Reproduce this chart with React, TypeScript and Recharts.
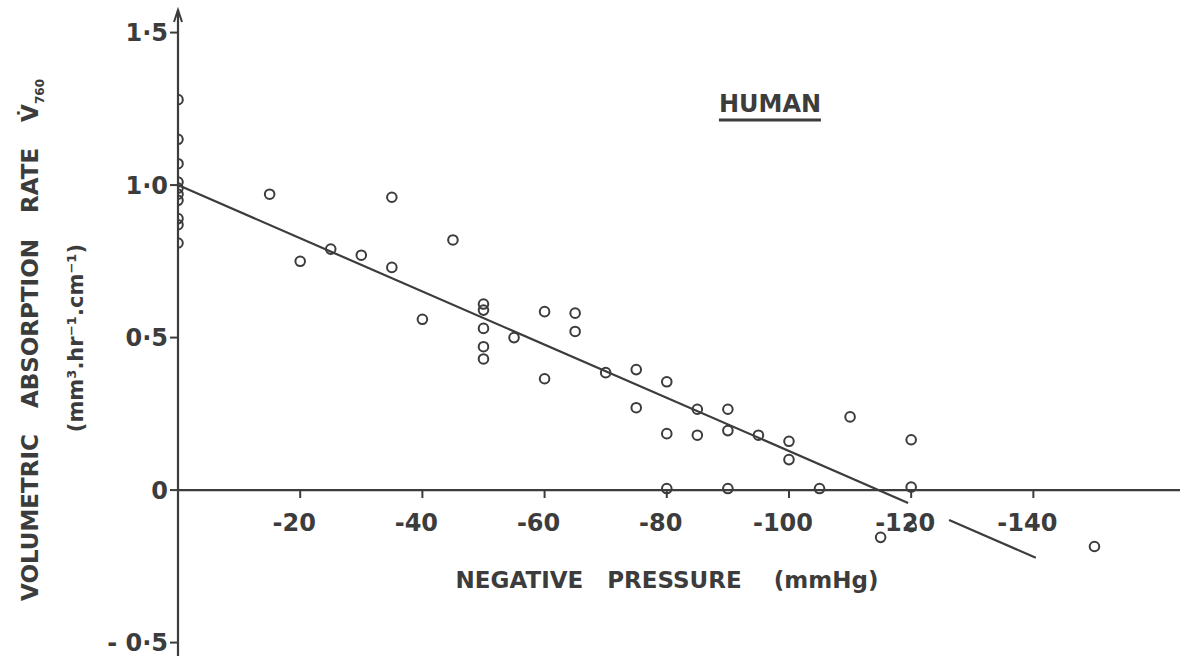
import { ReferenceDot, ReferenceLine, Scatter, ScatterChart, XAxis, YAxis } from "recharts";

// negative pressure (mmHg) and volumetric absorption rate for each observation
const pressures = [
  0, 0, 0, 0, 0, 0, 0, 0, 0, 0,
  -15, -20, -25, -30, -35, -35, -40, -45,
  -50, -50, -50, -50, -50, -55, -60, -60, -65, -65,
  -70, -75, -75, -80, -80, -80, -85, -85, -90, -90, -90,
  -95, -100, -100, -105, -110, -115, -120, -120, -120, -150,
];
const rates = [
  1.28, 1.15, 1.07, 1.01, 0.99, 0.97, 0.95, 0.89, 0.87, 0.81,
  0.97, 0.75, 0.79, 0.77, 0.96, 0.73, 0.56, 0.82,
  0.61, 0.59, 0.53, 0.47, 0.43, 0.5, 0.585, 0.365, 0.58, 0.52,
  0.385, 0.395, 0.27, 0.355, 0.185, 0.005, 0.265, 0.18, 0.265, 0.195, 0.005,
  0.18, 0.16, 0.1, 0.005, 0.24, -0.155, 0.165, 0.01, -0.12, -0.185,
];

// fitted line, drawn in two pieces (broken around the -120 label)
const fitStart = [0, 1.0];
const fitBreak = [-119.5, -0.042];
const fitResume = [-126.2, -0.098];
const fitEnd = [-140.4, -0.222];

const xTicks = [-20, -40, -60, -80, -100, -120, -140];
const xTickLabels = ["-20", "-40", "-60", "-80", "-100", "-120", "-140"];
const yTicks = [-0.5, 0, 0.5, 1, 1.5];
const yTickLabels = ["- 0·5", "0", "0·5", "1·0", "1·5"];

const xDomain = [-164, 0];
const yDomain = [-0.544, 1.574];

const INK = "#3c3c3c";
const FONT = "'DejaVu Sans', sans-serif";

const points = pressures.map((p, i) => ({ x: p, y: rates[i] }));

const Ring = (props: any) => (
  <circle cx={props.cx} cy={props.cy} r={4.8} fill="none" stroke={INK} strokeWidth={2} />
);

const Arrow = (props: any) => (
  <path d={`M${props.cx - 4},${props.cy + 12} L${props.cx},${props.cy} L${props.cx + 4},${props.cy + 12}`} fill="none" stroke={INK} strokeWidth={2} />
);

const YTick = (props: any) => {
  const { x, y, payload } = props;
  return (
    <text x={x} y={y} dy="0.36em" textAnchor="end" fill={INK} fontSize={24} fontWeight="bold" fontFamily={FONT}>
      {yTickLabels[yTicks.indexOf(payload.value)] ?? ""}
    </text>
  );
};

export default function App() {
  return (
    <div style={{ position: "absolute", left: 0, top: 0, width: 1198, height: 656, background: "#fff", color: INK, fontFamily: FONT, fontWeight: "bold" }}>
      <ScatterChart width={1198} height={656} margin={{ top: 10, right: 18, bottom: 0, left: 0 }}>
        <XAxis type="number" dataKey="x" domain={xDomain} reversed hide allowDataOverflow />
        <YAxis
          type="number"
          dataKey="y"
          domain={yDomain}
          ticks={yTicks}
          interval={0}
          width={178}
          allowDataOverflow
          tickSize={8}
          axisLine={{ stroke: INK, strokeWidth: 2.2 }}
          tickLine={{ stroke: INK, strokeWidth: 2 }}
          tick={<YTick />}
        />
        <ReferenceLine y={0} stroke={INK} strokeWidth={2.2} />
        {xTicks.map((t) => (
          <ReferenceLine key={"t" + t} segment={[{ x: t, y: 0 }, { x: t, y: -0.026 }]} stroke={INK} strokeWidth={2} />
        ))}
        {xTicks.map((t, i) => (
          <ReferenceDot
            key={"l" + t}
            x={t}
            y={-0.105}
            r={0}
            shape={(p: any) => (
              <text x={p.cx - 6} y={p.cy} dy="0.36em" textAnchor="middle" fill={INK} fontSize={24} fontWeight="bold" fontFamily={FONT}>
                {xTickLabels[i]}
              </text>
            )}
          />
        ))}
        <ReferenceDot x={0} y={yDomain[1]} r={0} shape={Arrow} />
        <ReferenceLine segment={[{ x: fitStart[0], y: fitStart[1] }, { x: fitBreak[0], y: fitBreak[1] }]} stroke={INK} strokeWidth={2.2} />
        <ReferenceLine segment={[{ x: fitResume[0], y: fitResume[1] }, { x: fitEnd[0], y: fitEnd[1] }]} stroke={INK} strokeWidth={2.2} />
        <Scatter data={points} shape={Ring} isAnimationActive={false} />
      </ScatterChart>

      <div style={{ position: "absolute", left: 32, top: 340, transform: "translate(-50%, -50%) rotate(-90deg)", whiteSpace: "nowrap", fontSize: 23, wordSpacing: 18 }}>
        VOLUMETRIC ABSORPTION RATE V̇<sub style={{ fontSize: 12 }}>760</sub>
      </div>
      <div style={{ position: "absolute", left: 76, top: 338, transform: "translate(-50%, -50%) rotate(-90deg)", whiteSpace: "nowrap", fontSize: 21 }}>
        (mm³.hr⁻¹.cm⁻¹)
      </div>
      <div style={{ position: "absolute", left: 770, top: 105, transform: "translate(-50%, -50%)", whiteSpace: "nowrap", fontSize: 24, borderBottom: `3px solid ${INK}`, lineHeight: "30px" }}>
        HUMAN
      </div>
      <div style={{ position: "absolute", left: 667, top: 580, transform: "translate(-50%, -50%)", whiteSpace: "pre", fontSize: 23 }}>
        {"NEGATIVE   PRESSURE    (mmHg)"}
      </div>
    </div>
  );
}
